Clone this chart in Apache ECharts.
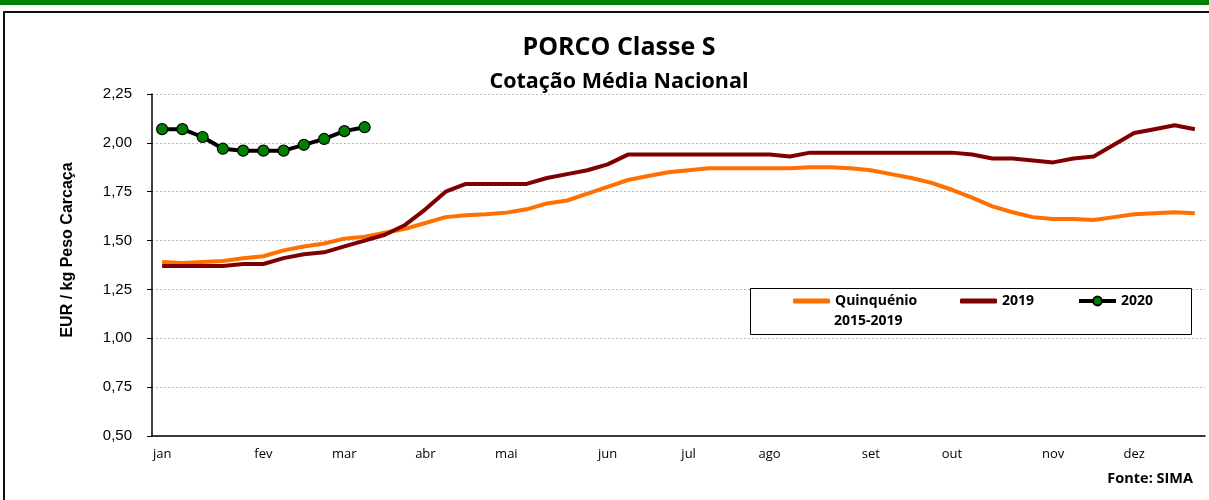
<!DOCTYPE html>
<html>
<head>
<meta charset="utf-8">
<script src="https://cdn.jsdelivr.net/npm/echarts@6/dist/echarts.min.js"></script>
<style>
  html, body { margin: 0; padding: 0; background: #fff; }
  #chart { width: 1209px; height: 500px; }
</style>
</head>
<body>
<div id="chart"></div>
<script>
// semanas do ano
const semanas = [1,2,3,4,5,6,7,8,9,10,11,12,13,14,15,16,17,18,19,20,21,22,23,24,25,26,
                 27,28,29,30,31,32,33,34,35,36,37,38,39,40,41,42,43,44,45,46,47,48,49,50,51,52];

// rótulos dos meses e semana onde aparecem
const meses = ['jan','fev','mar','abr','mai','jun','jul','ago','set','out','nov','dez'];
const semanaMes = [1,6,10,14,18,23,27,31,36,40,45,49];

const quinquenio = [1.39,1.385,1.39,1.395,1.41,1.42,1.45,1.47,1.485,1.51,1.52,1.54,1.56,1.59,1.62,1.63,
                    1.635,1.643,1.66,1.69,1.705,1.74,1.775,1.81,1.83,1.85,1.86,1.87,1.87,1.87,1.87,1.87,
                    1.875,1.875,1.87,1.86,1.84,1.82,1.795,1.76,1.72,1.675,1.645,1.62,1.61,1.61,1.605,
                    1.62,1.635,1.64,1.645,1.64];

const ano2019 = [1.37,1.37,1.37,1.37,1.38,1.38,1.41,1.43,1.44,1.47,1.50,1.53,1.58,1.66,1.75,1.79,
                 1.79,1.79,1.79,1.82,1.84,1.86,1.89,1.94,1.94,1.94,1.94,1.94,1.94,1.94,1.94,1.93,
                 1.95,1.95,1.95,1.95,1.95,1.95,1.95,1.95,1.94,1.92,1.92,1.91,1.90,1.92,1.93,1.99,
                 2.05,2.07,2.09,2.07];

const ano2020 = [2.07,2.07,2.03,1.97,1.96,1.96,1.96,1.99,2.02,2.06,2.08];

const yTicks = [0.5, 0.75, 1.0, 1.25, 1.5, 1.75, 2.0, 2.25];

const fonte = 'Open Sans';
const legendaTexto = { fontFamily: fonte, fontSize: 14, fontWeight: 'bold', color: '#000' };

const chart = echarts.init(document.getElementById('chart'));

chart.setOption({
    animation: false,
    title: {
        text: 'PORCO Classe S',
        subtext: 'Cotação Média Nacional',
        left: 614,
        textAlign: 'center',
        top: 30,
        itemGap: 11,
        textStyle: { fontFamily: fonte, fontSize: 25, lineHeight: 25, fontWeight: 'bold', color: '#000' },
        subtextStyle: { fontFamily: fonte, fontSize: 21.5, lineHeight: 21.5, fontWeight: 'bold', color: '#000' }
    },
    graphic: [
        { type: 'rect', shape: { x: 0, y: 0, width: 1209, height: 5 }, style: { fill: '#008000' } },
        { type: 'rect', shape: { x: 4, y: 12, width: 1220, height: 500 },
          style: { fill: 'none', stroke: '#111', lineWidth: 2 } },
        { type: 'rect', z: 3, shape: { x: 750.5, y: 288.5, width: 441, height: 46 },
          style: { fill: '#fff', stroke: '#000', lineWidth: 1 } },
        { type: 'text', z: 4, left: 834, top: 314,
          style: { text: '2015-2019', fontFamily: fonte, fontSize: 14, fontWeight: 'bold', fill: '#000' } },
        { type: 'text', z: 4, right: 16, top: 471,
          style: { text: 'Fonte: SIMA', fontFamily: fonte, fontSize: 14.5, fontWeight: 'bold', fill: '#000' } }
    ],
    legend: [
        { data: [{ name: 'Quinquénio 2015-2019', icon: 'roundRect' }], left: 793, top: 294, padding: 0, z: 5,
          itemWidth: 37, itemHeight: 5, formatter: () => 'Quinquénio', textStyle: legendaTexto },
        { data: [{ name: '2019', icon: 'roundRect' }], left: 960, top: 294, padding: 0, z: 5,
          itemWidth: 37, itemHeight: 5, textStyle: legendaTexto },
        { data: ['2020'], left: 1077, top: 294, padding: 0, z: 5, itemWidth: 37, itemHeight: 11,
          lineStyle: { width: 4 }, textStyle: legendaTexto }
    ],
    grid: { left: 152, right: 4, top: 94, bottom: 64 },
    xAxis: {
        type: 'category',
        data: semanas,
        boundaryGap: true,
        axisLine: { lineStyle: { color: '#000', width: 1.5 } },
        axisTick: { inside: true, length: 4, interval: 0, lineStyle: { color: '#000' } },
        axisLabel: {
            interval: 0,
            margin: 12,
            fontFamily: fonte,
            fontSize: 13,
            color: '#000',
            formatter: function (v) {
                const i = semanaMes.indexOf(Number(v));
                return i >= 0 ? meses[i] : '';
            }
        }
    },
    yAxis: {
        type: 'value',
        min: yTicks[0],
        max: yTicks[yTicks.length - 1],
        interval: 0.25,
        name: 'EUR / kg Peso Carcaça',
        nameLocation: 'middle',
        nameRotate: 90,
        nameGap: 76,
        nameTextStyle: { fontFamily: 'Liberation Sans', fontSize: 16, fontWeight: 'bold', color: '#000',
                         padding: [0, 0, 0, 30] },
        axisLine: { show: true, lineStyle: { color: '#000', width: 1.5 } },
        axisTick: { show: true, length: 5, lineStyle: { color: '#000' } },
        axisLabel: {
            margin: 20,
            fontFamily: 'Liberation Sans',
            fontSize: 15,
            color: '#000',
            formatter: v => v.toFixed(2).replace('.', ',')
        },
        splitLine: { lineStyle: { color: '#bbb', type: [2, 2], width: 1 } }
    },
    series: [
        {
            name: 'Quinquénio 2015-2019',
            type: 'line',
            data: quinquenio,
            symbol: 'none',
            z: 2,
            lineStyle: { color: '#ff7000', width: 4 },
            itemStyle: { color: '#ff7000' }
        },
        {
            name: '2019',
            type: 'line',
            data: ano2019,
            symbol: 'none',
            z: 3,
            lineStyle: { color: '#800000', width: 4 },
            itemStyle: { color: '#800000' }
        },
        {
            name: '2020',
            type: 'line',
            data: ano2020,
            symbol: 'circle',
            symbolSize: 11,
            z: 4,
            lineStyle: { color: '#000', width: 4 },
            itemStyle: { color: '#008000', borderColor: '#000', borderWidth: 1.2 }
        }
    ]
});
</script>
</body>
</html>
